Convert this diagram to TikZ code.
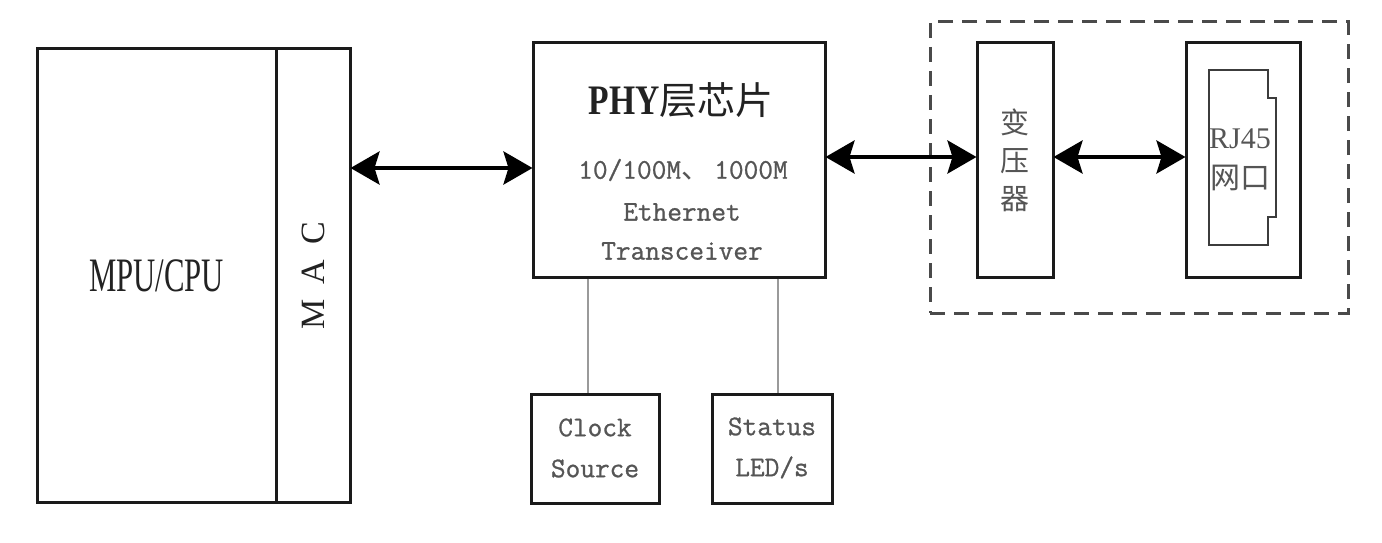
\documentclass[tikz,border=0pt]{standalone}
\usepackage{fontspec}
\setmainfont{Liberation Serif}
\newfontfamily\cjk{Noto Sans CJK SC}
\newfontfamily\monob{Latin Modern Mono}[FakeBold=0.9]
\usetikzlibrary{arrows.meta}
\definecolor{boxline}{HTML}{1A1A1A}
\definecolor{txtdark}{HTML}{222222}
\definecolor{txtgray}{HTML}{555555}
\definecolor{dashgray}{HTML}{4A4A4A}
\definecolor{thinline}{HTML}{9A9A9A}
\tikzset{
  blk/.style={draw=boxline, line width=3pt, fill=white, inner sep=0pt},
  dashbox/.style={draw=dashgray, line width=3pt, dash pattern=on 15pt off 9pt, inner sep=0pt},
  bus/.style={line width=4pt, draw=black, {Stealth[length=29pt,width=33pt,inset=5pt]}-{Stealth[length=29pt,width=33pt,inset=5pt]}, shorten <=-1pt, shorten >=-1pt},
  tap/.style={draw=thinline, line width=1.8pt},
  mono/.style={font=\monob\fontsize{28.5}{41}\selectfont, text=txtgray, align=center, inner sep=0pt},
  cjktxt/.style={font=\cjk\fontsize{29}{38}\selectfont, text=txtgray, align=center, inner sep=0pt}
}
\begin{document}
\begin{tikzpicture}[x=1pt,y=-1pt]
\useasboundingbox (0,0) rectangle (1382,543);
\fill[white] (0,0) rectangle (1382,543);
% dashed group
\node[dashbox, minimum width=418pt, minimum height=291pt] (grp) at (1139,167.5) {};
% boxes
\node[blk, minimum width=239pt, minimum height=454pt] (mpu) at (156.5,275.5) {};
\node[blk, minimum width=74pt, minimum height=454pt] (mac) at (313,275.5) {};
\node[blk, minimum width=292pt, minimum height=234pt] (phy) at (679,160) {};
\node[blk, minimum width=128pt, minimum height=109pt] (clk) at (595,448.5) {};
\node[blk, minimum width=120pt, minimum height=109pt] (led) at (772,448.5) {};
\node[blk, minimum width=76pt, minimum height=234pt] (xfmr) at (1015,160) {};
\node[blk, minimum width=114pt, minimum height=234pt] (rj) at (1243,160) {};
% RJ45 socket outline
\draw[draw=boxline!85, line width=2.4pt]
  ([xshift=-34pt,yshift=-85pt]rj.center) -- ([xshift=25pt,yshift=-85pt]rj.center)
  -- ([xshift=25pt,yshift=-57pt]rj.center) -- ([xshift=33pt,yshift=-57pt]rj.center)
  -- ([xshift=33pt,yshift=62pt]rj.center) -- ([xshift=25pt,yshift=62pt]rj.center)
  -- ([xshift=25pt,yshift=90pt]rj.center) -- ([xshift=-34pt,yshift=90pt]rj.center) -- cycle;
% texts
\node[font=\fontsize{48}{50}\selectfont, text=txtdark, xscale=0.64, inner sep=0pt] (tmpu) at (mpu.center) {MPU/CPU};
\node[font=\fontsize{34}{36}\selectfont, text=txtdark, rotate=90, inner sep=0pt] (tmac) at (mac.center) {M\hspace{0.45em}A\hspace{0.45em}C};
\node[inner sep=0pt, text=txtdark] (tphy) at (681,100) {{\fontsize{42}{44}\selectfont\bfseries\addfontfeature{FakeStretch=0.8}PHY}{\cjk\fontsize{38}{44}\selectfont 层芯片}};
\node[mono] (t1) at (683,170) {10/100M{\cjk 、}\,1000M};
\node[mono] (t2) at (682,212) {Ethernet};
\node[mono] (t3) at (682,251) {Transceiver};
\node[mono] (tclk) at (595,448) {Clock\\Source};
\node[mono] (tled) at (772,448) {Status\\LED/s};
\node[cjktxt] (txf) at (1015,160) {变\\压\\器};
\node[cjktxt, font=\fontsize{30}{40}\selectfont] (trj) at (1240,160) {RJ45\\{\cjk 网口}};
% connectors
\coordinate (ya) at (0,168);
\coordinate (yb) at (0,157);
\coordinate (xc) at (588,0);
\coordinate (xl) at (778,0);
\draw[bus] (mac.east |- ya) -- (phy.west |- ya);
\draw[bus] (phy.east |- yb) -- (xfmr.west |- yb);
\draw[bus] (xfmr.east |- yb) -- (rj.west |- yb);
\draw[tap] (phy.south -| xc) -- (clk.north -| xc);
\draw[tap] (phy.south -| xl) -- (led.north -| xl);
\end{tikzpicture}
\end{document}
